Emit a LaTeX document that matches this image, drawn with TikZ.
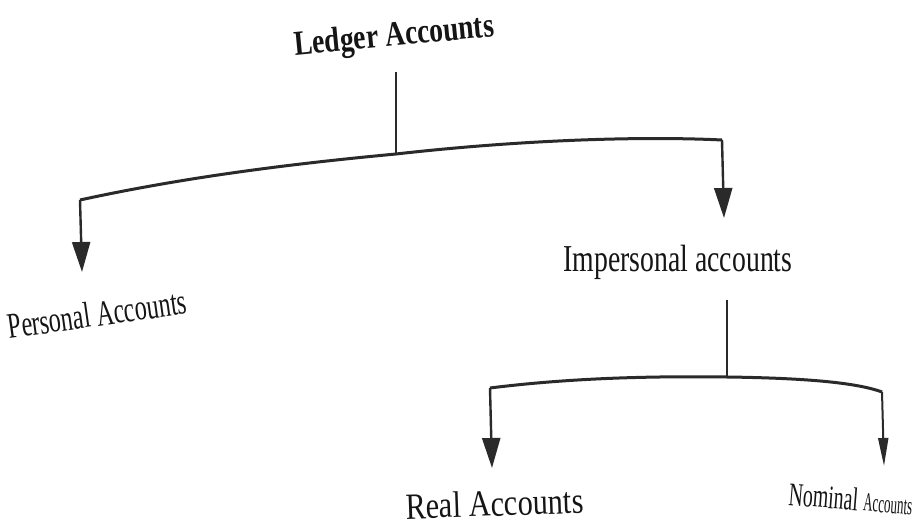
\documentclass[tikz,border=0pt]{standalone}
\usepackage{fontspec}
\setmainfont{Liberation Serif}
\usetikzlibrary{arrows.meta}
\definecolor{ink}{HTML}{2A2A2A}
\definecolor{txt}{HTML}{151515}
\begin{document}
\begin{tikzpicture}[x=1pt,y=-1pt,
  link/.style={draw=ink,line width=2.4pt},
  bow/.style={draw=ink,line width=3pt},
  bigtip/.style={-{Triangle[length=30pt,width=18pt]}},
  smalltip/.style={-{Triangle[length=28pt,width=10pt]}},
  label/.style={text=txt,inner sep=0pt,anchor=base,font=\fontsize{38}{40}\selectfont}]
\useasboundingbox (0,0) rectangle (916,529);
\fill[white] (0,0) rectangle (916,529);

% labels (narrow type: scaled horizontally)
\node[label,font=\bfseries\fontsize{35}{38}\selectfont,rotate=5.5] (ledger) at (395,46)
  {\scalebox{0.79}[1]{Ledger Accounts}};
\node[label,font=\fontsize{36}{38}\selectfont,rotate=8] (personal) at (99,326)
  {\scalebox{0.67}[1]{Personal Accounts}};
\node[label] (impersonal) at (678,272)
  {\scalebox{0.73}[1]{Impersonal accounts}};
\node[label,font=\fontsize{37}{39}\selectfont,rotate=2] (real) at (495,516)
  {\scalebox{0.82}[1]{Real Accounts}};
\node[label,font=\fontsize{33}{35}\selectfont,anchor=base west,rotate=-4.5] (nominal) at (788,505)
  {\scalebox{0.6}[1]{Nominal}\,{\fontsize{26}{28}\selectfont\scalebox{0.5}[1]{Accounts}}};

% junction points
\coordinate (top1) at (396,72);
\coordinate (mid1) at (396,154);
\coordinate (left1) at (80,200);
\coordinate (right1) at (722,140);
\coordinate (tipP) at (82,272);
\coordinate (tipI) at (724,218);
\coordinate (top2) at (727,300);
\coordinate (mid2) at (727,377);
\coordinate (left2) at (490,388);
\coordinate (right2) at (882,392);
\coordinate (tipR) at (492,468);
\coordinate (tipN) at (884,466);

% first level
\draw[link] (top1) -- (mid1);
\draw[bow] (left1) .. controls (190,176) and (300,163) .. (mid1)
  .. controls (520,140) and (640,136) .. (right1);
\draw[link,bigtip] (left1) -- (tipP);
\draw[link,bigtip] (right1) -- (tipI);

% second level
\draw[link] (top2) -- (mid2);
\draw[bow] (left2) .. controls (570,378) and (650,376) .. (mid2)
  .. controls (800,378) and (855,382) .. (right2);
\draw[link,bigtip] (left2) -- (tipR);
\draw[link,smalltip,line width=2pt] (right2) -- (tipN);
\end{tikzpicture}
\end{document}
